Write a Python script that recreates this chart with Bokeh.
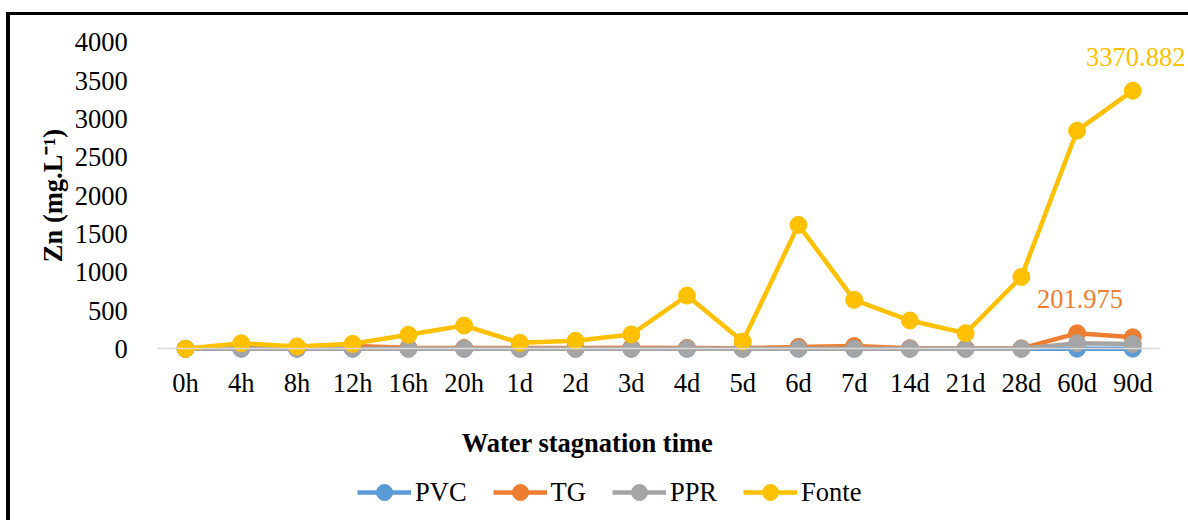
import math
from bokeh.plotting import figure
from bokeh.models import ColumnDataSource, Legend, LegendItem, Range1d, InlineStyleSheet, Label
from bokeh.core.properties import value
from bokeh.embed import file_html
from bokeh.resources import INLINE

categories = ["0h", "4h", "8h", "12h", "16h", "20h", "1d", "2d", "3d", "4d", "5d",
              "6d", "7d", "14d", "21d", "28d", "60d", "90d"]
pvc = [0.5, 0.8, 0.6, 0.7, 0.5, 0.6, 0.4, 0.5, 0.6, 0.5, 0.4, 0.6, 0.5, 0.4, 0.5, 0.6, 1.5, 1.2]
tg = [0, 20, 10, 35, 15, 10, 10, 10, 15, 12, 8, 25, 35, 8, 5, 5, 201.975, 150]
ppr = [0, 2, 1, 2, 1, 1, 1, 1, 1, 1, 1, 2, 2, 1, 1, 1, 73, 62]
fonte = [0, 73, 30, 65, 183, 304, 78, 104, 187, 695, 95, 1618, 639, 369, 203, 939, 2848, 3370.882]
series_names = ["PVC", "TG", "PPR", "Fonte"]
series_colors = ["#5B9BD5", "#ED7D31", "#A5A5A5", "#FFC000"]
y_ticks = [0, 500, 1000, 1500, 2000, 2500, 3000, 3500, 4000]
labels_cat = ["60d", "90d"]
labels_val = [201.975, 3370.882]
labels_txt = ["201.975", "3370.882"]
labels_color = ["#ED7D31", "#FFC000"]
x_title = "Water stagnation time"
y_title = "Zn (mg.L\u207B\u00B9)"

FONT = "Liberation Serif"
FS = "26.5px"

n = len(categories)
xs = list(range(n))

# frame covers the whole canvas; ranges chosen so the plotting area sits where the reference has it
p = figure(width=1188, height=520, x_range=Range1d(-3.32, 18.0), y_range=Range1d(-2242, 4548),
           output_backend="svg", toolbar_location=None,
           min_border_left=0, min_border_right=0, min_border_top=0, min_border_bottom=0)
p.outline_line_color = None
p.xgrid.grid_line_color = None
p.ygrid.grid_line_color = None

source = ColumnDataSource(dict(x=xs, PVC=pvc, TG=tg, PPR=ppr, Fonte=fonte))

items = []
for name, color in zip(series_names, series_colors):
    lr = p.line(x="x", y=name, source=source, line_color=color, line_width=4.5)
    sr = p.scatter(x="x", y=name, source=source, size=17, fill_color=color, line_color=color)
    items.append(LegendItem(label=name, renderers=[lr, sr]))

lab_src = ColumnDataSource(dict(x=[categories.index(c) for c in labels_cat], y=labels_val,
                                t=labels_txt, c=labels_color))
p.text(x="x", y="y", text="t", source=lab_src, text_color="c", text_align="center",
       text_baseline="middle", y_offset=-34, x_offset=3, text_font=value(FONT), text_font_size=FS)

# axes (fixed inside the frame)
p.yaxis.fixed_location = -0.5
p.yaxis.ticker = y_ticks
p.yaxis.bounds = (0, 4000)
p.yaxis.axis_line_color = None
p.yaxis.major_tick_line_color = None
p.yaxis.minor_tick_line_color = None
p.yaxis.major_label_standoff = 24
p.yaxis.major_label_text_font = FONT
p.yaxis.major_label_text_font_size = FS
p.yaxis.major_label_text_color = "#000000"

p.xaxis.fixed_location = 0
p.xaxis.ticker = xs
p.xaxis.major_label_overrides = {i: c for i, c in enumerate(categories)}
p.xaxis.bounds = (-0.5, n - 0.5)
p.xaxis.axis_line_color = "#D9D9D9"
p.xaxis.axis_line_width = 1.5
p.xaxis.major_tick_line_color = None
p.xaxis.minor_tick_line_color = None
p.xaxis.major_label_standoff = 13
p.xaxis.major_label_text_font = FONT
p.xaxis.major_label_text_font_size = FS
p.xaxis.major_label_text_color = "#000000"

p.add_layout(Label(x=587, y=442, x_units="canvas", y_units="canvas", text=x_title,
                   text_align="center", text_baseline="middle", text_font=FONT,
                   text_font_size=FS, text_font_style="bold", text_color="#000000"))
p.add_layout(Label(x=52, y=195, x_units="canvas", y_units="canvas", text=y_title, angle=math.pi / 2,
                   text_align="center", text_baseline="middle", text_font=FONT,
                   text_font_size=FS, text_font_style="bold", text_color="#000000"))

legend = Legend(items=items, orientation="horizontal", location=(357, 8),
                glyph_width=54, glyph_height=40, label_standoff=4, spacing=26,
                padding=0, margin=0, border_line_alpha=0, background_fill_alpha=0,
                label_text_font=FONT, label_text_font_size=FS, label_text_color="#000000")
p.add_layout(legend, "center")

p.stylesheets = [InlineStyleSheet(css="""
:host::after { content: ""; position: absolute; left: 6px; top: 12px; width: 1182px; height: 508px;
  box-sizing: border-box; border-top: 3px solid #000; border-left: 4px solid #000; pointer-events: none; }
""")]

open("out.html", "w").write(file_html(p, INLINE))
